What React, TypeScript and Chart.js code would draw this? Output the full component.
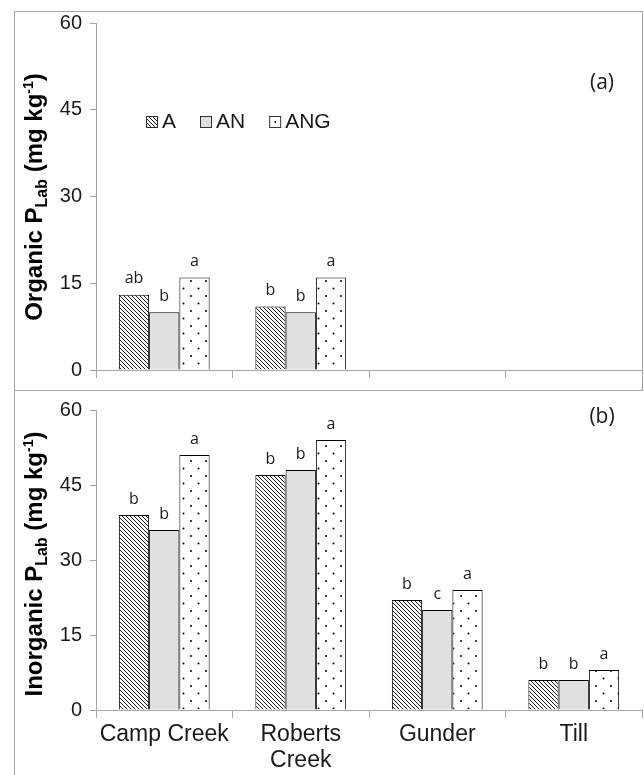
import React, { useEffect, useRef } from 'react';
import { Chart, registerables } from 'chart.js';
Chart.register(...registerables);

// ---------- data ----------
const categories: (string | string[])[] = ['Camp Creek', ['Roberts', 'Creek'], 'Gunder', 'Till'];
const treatments = ['A', 'AN', 'ANG'];
const yTickValues = [0, 15, 30, 45, 60];

const organicA = [13, 11, null, null];
const organicAN = [10, 10, null, null];
const organicANG = [16, 16, null, null];
const organicLettersA = ['ab', 'b', '', ''];
const organicLettersAN = ['b', 'b', '', ''];
const organicLettersANG = ['a', 'a', '', ''];

const inorganicA = [39, 47, 22, 6];
const inorganicAN = [36, 48, 20, 6];
const inorganicANG = [51, 54, 24, 8];
const inorganicLettersA = ['b', 'b', 'b', 'b'];
const inorganicLettersAN = ['b', 'b', 'c', 'b'];
const inorganicLettersANG = ['a', 'a', 'a', 'a'];

// ---------- styles ----------
const AXIS = '#a6a6a6';
const TEXT = '#1a1a1a';
const SANS = '"Liberation Sans", Arial, sans-serif';
const CAL = '"Open Sans", sans-serif';
const W = 644;

function hatchPattern(ctx: CanvasRenderingContext2D) {
  const c = document.createElement('canvas');
  c.width = 4; c.height = 4;
  const g = c.getContext('2d')!;
  g.fillStyle = '#fff'; g.fillRect(0, 0, 4, 4);
  g.strokeStyle = '#000'; g.lineWidth = 0.9;
  g.beginPath();
  for (const k of [-4, 0, 4]) { g.moveTo(-1, -1 + k); g.lineTo(5, 5 + k); }
  g.stroke();
  return ctx.createPattern(c, 'repeat')!;
}

function dotPattern(ctx: CanvasRenderingContext2D) {
  const c = document.createElement('canvas');
  c.width = 15; c.height = 15;
  const g = c.getContext('2d')!;
  g.fillStyle = '#fff'; g.fillRect(0, 0, 15, 15);
  g.fillStyle = '#000';
  g.beginPath(); g.arc(3.5, 3.5, 1, 0, Math.PI * 2); g.fill();
  g.beginPath(); g.arc(11, 11, 1, 0, Math.PI * 2); g.fill();
  return ctx.createPattern(c, 'repeat')!;
}

type Panel = {
  series: (number | null)[][];
  letters: string[][];
  prefix: string;
  tag: string;
  top: number;
  height: number;
  areaTop: number;
  areaBottom: number;
  showLabels: boolean;
  titleCenterY: number;
  tagY: number;
  legend: boolean;
};

const panels: Panel[] = [
  {
    series: [organicA, organicAN, organicANG],
    letters: [organicLettersA, organicLettersAN, organicLettersANG],
    prefix: 'Organic P', tag: '(a)', top: 0, height: 390, areaTop: 23, areaBottom: 372,
    showLabels: false, titleCenterY: 197, tagY: 83, legend: true,
  },
  {
    series: [inorganicA, inorganicAN, inorganicANG],
    letters: [inorganicLettersA, inorganicLettersAN, inorganicLettersANG],
    prefix: 'Inorganic P', tag: '(b)', top: 390, height: 385, areaTop: 13, areaBottom: 320,
    showLabels: true, titleCenterY: 174, tagY: 27, legend: false,
  },
];

function drawTitle(ctx: CanvasRenderingContext2D, prefix: string, cy: number) {
  const runs = [
    { t: prefix, size: 24, dy: 0 },
    { t: 'Lab', size: 16, dy: 5 },
    { t: ' (mg kg', size: 24, dy: 0 },
    { t: '-1', size: 14, dy: -9 },
    { t: ')', size: 24, dy: 0 },
  ];
  ctx.save();
  ctx.translate(42, cy);
  ctx.rotate(-Math.PI / 2);
  ctx.fillStyle = '#000';
  ctx.textBaseline = 'alphabetic';
  ctx.textAlign = 'left';
  let total = 0;
  for (const r of runs) { ctx.font = `bold ${r.size}px ${SANS}`; total += ctx.measureText(r.t).width; }
  let x = -total / 2;
  for (const r of runs) {
    ctx.font = `bold ${r.size}px ${SANS}`;
    ctx.fillText(r.t, x, r.dy);
    x += ctx.measureText(r.t).width;
  }
  ctx.restore();
}

function drawLegend(ctx: CanvasRenderingContext2D, fills: (string | CanvasPattern)[]) {
  let x = 146;
  const base = 128;
  const box = 12;
  ctx.save();
  ctx.font = `21px ${SANS}`;
  ctx.textBaseline = 'alphabetic';
  ctx.textAlign = 'left';
  treatments.forEach((name, i) => {
    ctx.fillStyle = i === 2 ? '#fff' : fills[i];
    ctx.fillRect(x, base - box, box, box);
    if (i === 2) {
      ctx.fillStyle = '#000';
      ctx.beginPath(); ctx.arc(x + box / 2, base - box / 2, 0.9, 0, Math.PI * 2); ctx.fill();
    }
    ctx.strokeStyle = '#333';
    ctx.lineWidth = 1;
    ctx.strokeRect(x + 0.5, base - box + 0.5, box - 1, box - 1);
    ctx.fillStyle = TEXT;
    ctx.fillText(name, x + box + 4, base);
    x += box + 4 + ctx.measureText(name).width + 24;
  });
  ctx.restore();
}

function PanelChart({ panel }: { panel: Panel }) {
  const ref = useRef<HTMLCanvasElement>(null);
  useEffect(() => {
    const canvas = ref.current!;
    const ctx = canvas.getContext('2d')!;
    const fills: (string | CanvasPattern)[] = [hatchPattern(ctx), '#e0e0e0', dotPattern(ctx)];
    const H = panel.height;
    const extras = {
      id: 'extras',
      afterDatasetsDraw(chart: any) {
        const c = chart.ctx as CanvasRenderingContext2D;
        c.save();
        c.font = `16px ${CAL}`;
        c.fillStyle = TEXT;
        c.textAlign = 'center';
        c.textBaseline = 'bottom';
        panel.letters.forEach((arr, i) => {
          const meta = chart.getDatasetMeta(i);
          arr.forEach((l, j) => {
            const el = meta.data[j];
            if (!l || !el || panel.series[i][j] == null) return;
            c.fillText(l, el.x, el.y - 8);
          });
        });
        c.restore();
      },
      afterDraw(chart: any) {
        const c = chart.ctx as CanvasRenderingContext2D;
        drawTitle(c, panel.prefix, panel.titleCenterY);
        c.save();
        c.font = `21px ${CAL}`;
        c.fillStyle = TEXT;
        c.textAlign = 'center';
        c.textBaseline = 'middle';
        c.fillText(panel.tag, 602, panel.tagY);
        c.restore();
        if (panel.legend) drawLegend(c, fills);
      },
    };
    const chart = new Chart(canvas, {
      type: 'bar',
      data: {
        labels: categories as any,
        datasets: treatments.map((name, i) => ({
          label: name,
          data: panel.series[i] as any,
          backgroundColor: fills[i] as any,
          borderColor: '#000',
          borderWidth: 1,
          categoryPercentage: 0.665,
          barPercentage: 1.0,
        })),
      },
      options: {
        responsive: false,
        maintainAspectRatio: false,
        animation: false,
        layout: { padding: { top: panel.areaTop, right: 2, left: 0, bottom: 0 } },
        plugins: { legend: { display: false }, tooltip: { enabled: false } },
        scales: {
          x: {
            type: 'category',
            offset: true,
            grid: { offset: true, drawOnChartArea: false, drawTicks: true, tickLength: 8, color: AXIS, lineWidth: 1 },
            border: { display: true, color: AXIS, width: 1 },
            ticks: {
              display: panel.showLabels,
              font: { family: SANS, size: 23, lineHeight: 1.13 },
              color: TEXT,
              padding: 4,
              maxRotation: 0,
              minRotation: 0,
              autoSkip: false,
            },
            afterFit: (s: any) => { s.height = H - panel.areaBottom; },
          },
          y: {
            min: 0,
            max: 60,
            afterBuildTicks: (s: any) => { s.ticks = yTickValues.map((v) => ({ value: v })); },
            ticks: { font: { family: SANS, size: 20 }, color: TEXT, padding: 8 },
            grid: { drawOnChartArea: false, drawTicks: true, tickLength: 6, color: AXIS, lineWidth: 1 },
            border: { display: true, color: AXIS, width: 1 },
            afterFit: (s: any) => { s.width = 96; },
          },
        },
      } as any,
      plugins: [extras],
    });
    return () => chart.destroy();
  }, [panel]);
  return (
    <canvas
      ref={ref}
      width={W}
      height={panel.height}
      style={{ position: 'absolute', left: 0, top: panel.top, width: W, height: panel.height }}
    />
  );
}

export default function App() {
  return (
    <div style={{ position: 'absolute', left: 0, top: 0, width: W, height: 775, background: '#fff', overflow: 'hidden' }}>
      <div style={{ position: 'absolute', left: 14, top: 11, width: 629, height: 380, border: `1px solid ${AXIS}`, boxSizing: 'border-box' }} />
      <div style={{ position: 'absolute', left: 14, top: 390, width: 1, height: 385, background: AXIS }} />
      {panels.map((p, i) => <PanelChart key={i} panel={p} />)}
    </div>
  );
}
